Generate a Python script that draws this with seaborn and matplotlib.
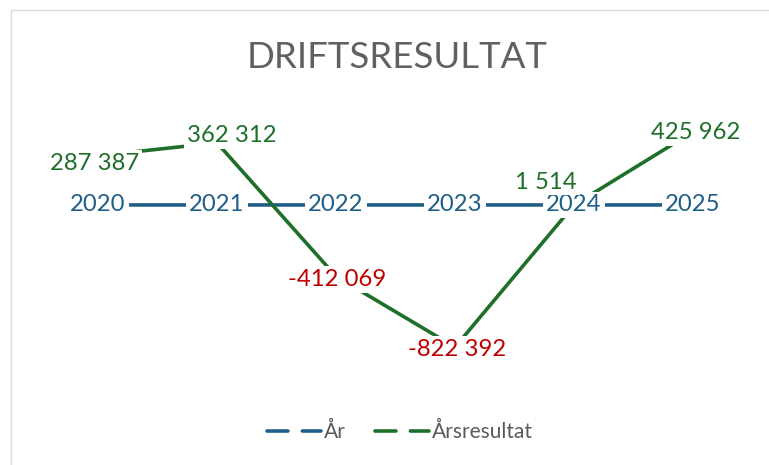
import matplotlib
matplotlib.use("Agg")
import matplotlib.pyplot as plt
from matplotlib.lines import Line2D
from matplotlib.patches import Rectangle
import seaborn as sns
import pandas as pd

years = [2020, 2021, 2022, 2023, 2024, 2025]
ar_values = [2020, 2021, 2022, 2023, 2024, 2025]
arsresultat = [287387, 362312, -412069, -822392, 1514, 425962]
ar_labels = ["2020", "2021", "2022", "2023", "2024", "2025"]
res_labels = ["287 387", "362 312", "-412 069", "-822 392", "1 514", "425 962"]

title = "DRIFTSRESULTAT"
legend_names = ["År", "Årsresultat"]

# label offsets in pixels (style)
res_offsets = [(-3, -8), (15, 7), (1, -3), (2, -2), (-28, 23), (3, -1)]

BLUE = "#1F5F87"
GREEN = "#1E6F2A"
RED = "#C00000"
GRAY = "#595959"

sns.set_theme(style="white")
plt.rcParams["font.family"] = ["Lato", "DejaVu Sans"]

fig = plt.figure(figsize=(7.69, 4.65), dpi=100)
W, H = 769, 465
# axes placement in pixels
L, R, T, B = 38.5, 752.5, 100, 380
ax = fig.add_axes([L / W, 1 - B / H, (R - L) / W, (B - T) / H])

df = pd.DataFrame({"year": years, "ar": ar_values, "res": arsresultat})
sns.lineplot(data=df, x="year", y="ar", ax=ax, color=BLUE, lw=2.6, zorder=2)
sns.lineplot(data=df, x="year", y="res", ax=ax, color=GREEN, lw=2.6, zorder=2)

ax.set_xlim(2019.5, 2025.5)
zero_px = 205.3
per_px = 5799.0
ax.set_ylim(-(B - zero_px) * per_px, (zero_px - T) * per_px)
ax.axis("off")

box = dict(boxstyle="square,pad=0.12", fc="white", ec="none")
for x, y, lab in zip(years, ar_values, ar_labels):
    ax.annotate(lab, (x, y), xytext=(0, 0), textcoords="offset pixels",
                ha="center", va="center", fontsize=17.2, color=BLUE,
                bbox=box, zorder=5)
for x, y, lab, off in zip(years, arsresultat, res_labels, res_offsets):
    ax.annotate(lab, (x, y), xytext=off, textcoords="offset pixels",
                ha="center", va="center", fontsize=17.2,
                color=RED if y < 0 else GREEN, bbox=box, zorder=5)

fig.text(397 / W, 1 - 58 / H, title, ha="center", va="center",
         fontsize=26.4, color="#606060", fontweight="normal")

# chart frame (top and left edges visible)
fig.add_artist(Rectangle((10.5 / W, -0.1), 1.2, 1 - 10.5 / H + 0.1,
                         transform=fig.transFigure, fill=False,
                         ec="#D9D9D9", lw=1.0))

handles = [Line2D([0], [0], color=BLUE, lw=2.6, ls=(0, (5.8, 4.0)),
                  dash_capstyle="round"),
           Line2D([0], [0], color=GREEN, lw=2.6, ls=(0, (5.8, 4.0)),
                  dash_capstyle="round")]
leg = fig.legend(handles, legend_names, loc="center",
                 bbox_to_anchor=(400 / W, 1 - 432 / H), ncol=2, frameon=False,
                 fontsize=15, handlelength=2.6, handletextpad=0.15,
                 columnspacing=1.4)
for t in leg.get_texts():
    t.set_color(GRAY)

fig.savefig("out.png", dpi=100)
